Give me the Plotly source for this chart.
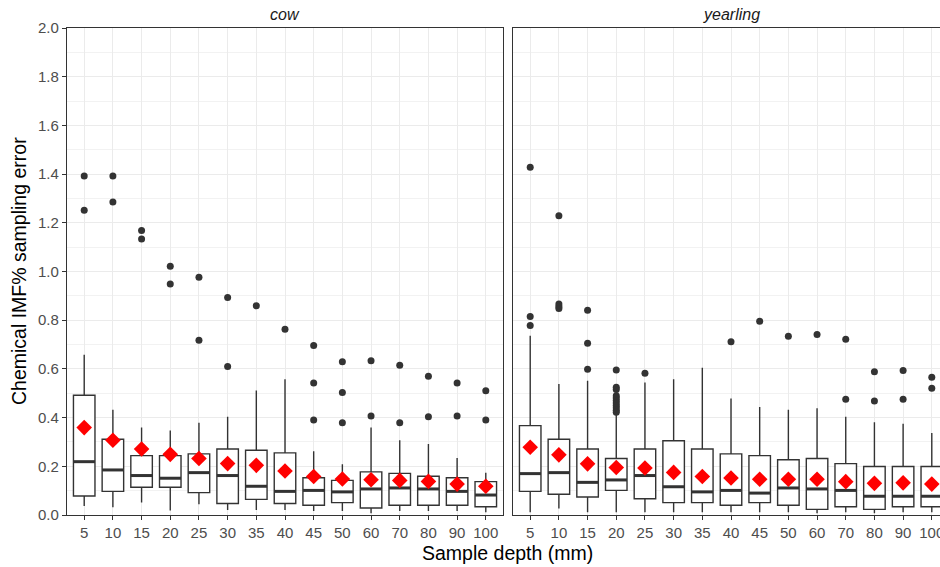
import plotly.graph_objects as go

W, H = 940, 567

depths = ["5", "10", "15", "20", "25", "30", "35", "40", "45", "50", "60", "70", "80", "90", "100"]

# ---- cow ----
cow_low = [0.037, 0.032, 0.051, 0.018, 0.044, 0.021, 0.021, 0.021, 0.016, 0.016, 0.007, 0.016, 0.016, 0.016, 0.011]
cow_q1 = [0.078, 0.097, 0.114, 0.114, 0.092, 0.047, 0.064, 0.047, 0.040, 0.051, 0.029, 0.040, 0.040, 0.040, 0.034]
cow_med = [0.219, 0.185, 0.162, 0.151, 0.174, 0.162, 0.118, 0.097, 0.101, 0.095, 0.107, 0.111, 0.107, 0.097, 0.082]
cow_q3 = [0.492, 0.311, 0.244, 0.244, 0.251, 0.271, 0.266, 0.255, 0.153, 0.142, 0.177, 0.171, 0.159, 0.153, 0.137]
cow_high = [0.658, 0.432, 0.359, 0.347, 0.379, 0.404, 0.511, 0.558, 0.262, 0.208, 0.359, 0.307, 0.292, 0.234, 0.173]
cow_mean = [0.359, 0.307, 0.271, 0.249, 0.232, 0.211, 0.204, 0.181, 0.158, 0.148, 0.145, 0.142, 0.138, 0.127, 0.118]
cow_out = [
    [1.392, 1.252],
    [1.392, 1.285],
    [1.168, 1.133],
    [1.022, 0.949],
    [0.976, 0.718],
    [0.893, 0.610],
    [0.859],
    [0.763],
    [0.696, 0.542, 0.390],
    [0.629, 0.503, 0.379],
    [0.633, 0.407],
    [0.615, 0.379],
    [0.570, 0.403],
    [0.542, 0.407],
    [0.510, 0.390],
]

# ---- yearling ----
yr_low = [0.011, 0.027, 0.011, 0.011, 0.011, 0.011, 0.011, 0.011, 0.011, 0.011, 0.007, 0.011, 0.007, 0.011, 0.011]
yr_q1 = [0.097, 0.085, 0.074, 0.101, 0.067, 0.051, 0.051, 0.040, 0.051, 0.040, 0.023, 0.034, 0.023, 0.034, 0.034]
yr_med = [0.170, 0.174, 0.134, 0.144, 0.162, 0.116, 0.095, 0.101, 0.090, 0.111, 0.107, 0.101, 0.077, 0.077, 0.077]
yr_q3 = [0.367, 0.311, 0.271, 0.232, 0.271, 0.305, 0.271, 0.251, 0.244, 0.227, 0.232, 0.211, 0.199, 0.199, 0.199]
yr_high = [0.736, 0.538, 0.551, 0.411, 0.544, 0.558, 0.605, 0.478, 0.444, 0.432, 0.438, 0.404, 0.381, 0.375, 0.337]
yr_mean = [0.278, 0.247, 0.210, 0.195, 0.193, 0.175, 0.158, 0.152, 0.147, 0.147, 0.147, 0.137, 0.130, 0.132, 0.127]
yr_out = [
    [1.428, 0.815, 0.778],
    [1.229, 0.867, 0.856, 0.848],
    [0.841, 0.705, 0.599],
    [0.595, 0.525, 0.515, 0.490, 0.480, 0.470, 0.460, 0.450, 0.440, 0.430, 0.422],
    [0.582],
    [],
    [],
    [0.712],
    [0.796],
    [0.734],
    [0.741],
    [0.722, 0.475],
    [0.588, 0.468],
    [0.593, 0.475],
    [0.566, 0.521],
]

BOXW = 0.75
LINE = "#333333"
GRID = "#ebebeb"
FONT = "Liberation Sans, Arial, sans-serif"

fig = go.Figure()
pos = list(range(len(depths)))


def add_panel(xa, ya, low, q1, med, q3, high, mean, out):
    fig.add_trace(go.Box(
        x=pos, q1=q1, median=med, q3=q3, lowerfence=low, upperfence=high,
        width=BOXW, whiskerwidth=0, boxpoints=False,
        fillcolor="white", line=dict(color=LINE, width=1.4),
        xaxis=xa, yaxis=ya, showlegend=False, hoverinfo="skip"))
    mx, my = [], []
    for i, m in zip(pos, med):
        mx += [i - BOXW / 2, i + BOXW / 2, None]
        my += [m, m, None]
    fig.add_trace(go.Scatter(x=mx, y=my, mode="lines",
                             line=dict(color=LINE, width=3),
                             xaxis=xa, yaxis=ya, showlegend=False, hoverinfo="skip"))
    ox, oy = [], []
    for i, vals in zip(pos, out):
        for v in vals:
            ox.append(i)
            oy.append(v)
    fig.add_trace(go.Scatter(x=ox, y=oy, mode="markers",
                             marker=dict(color=LINE, size=7, symbol="circle"),
                             xaxis=xa, yaxis=ya, showlegend=False))
    fig.add_trace(go.Scatter(x=pos, y=mean, mode="markers",
                             marker=dict(color="#ff0000", size=12, symbol="diamond",
                                         line=dict(width=0)),
                             xaxis=xa, yaxis=ya, showlegend=False))


add_panel("x", "y", cow_low, cow_q1, cow_med, cow_q3, cow_high, cow_mean, cow_out)
add_panel("x2", "y2", yr_low, yr_q1, yr_med, yr_q3, yr_high, yr_mean, yr_out)

# pixel geometry
L1, R1 = 67, 503
L2 = 513
TOP, BOT = 28, 515
unit = (R1 - L1) / 15.2
r2_end = -0.6 + (W - L2) / unit

ydom = [1 - BOT / H, 1 - TOP / H]
TICKFONT = dict(family=FONT, size=15, color="#4d4d4d")

xcommon = dict(
    tickmode="array", tickvals=pos, ticktext=depths,
    showgrid=True, gridcolor=GRID, gridwidth=1.1,
    showline=True, linecolor=LINE, linewidth=1.2, mirror=True,
    ticks="outside", ticklen=4, tickcolor=LINE, tickwidth=1,
    tickfont=TICKFONT, ticklabeloverflow="allow",
    zeroline=False, automargin=False,
)
fig.update_layout(
    width=W, height=H,
    margin=dict(l=0, r=0, t=0, b=0),
    paper_bgcolor="white", plot_bgcolor="white",
    showlegend=False,
    xaxis=dict(domain=[L1 / W, R1 / W], range=[-0.6, 14.6], anchor="y", **xcommon),
    xaxis2=dict(domain=[L2 / W, 1.0], range=[-0.6, r2_end], anchor="y2", **xcommon),
    yaxis=dict(domain=ydom, range=[0, 2.0], tickvals=[0, 0.2, 0.4, 0.6, 0.8, 1.0, 1.2, 1.4, 1.6, 1.8, 2.0],
               ticktext=["0.0", "0.2", "0.4", "0.6", "0.8", "1.0", "1.2", "1.4", "1.6", "1.8", "2.0"],
               showgrid=True, gridcolor=GRID, gridwidth=1.1,
               minor=dict(dtick=0.1, showgrid=True, gridcolor="#f2f2f2", gridwidth=0.6),
               showline=True, linecolor=LINE, linewidth=1.2, mirror=True,
               ticks="outside", ticklen=4, tickcolor=LINE, tickwidth=1,
               tickfont=TICKFONT,
               zeroline=False, automargin=False, anchor="x"),
    yaxis2=dict(domain=ydom, range=[0, 2.0], dtick=0.2,
                showgrid=True, gridcolor=GRID, gridwidth=1.1,
                minor=dict(dtick=0.1, showgrid=True, gridcolor="#f2f2f2", gridwidth=0.6),
                showline=True, linecolor=LINE, linewidth=1.2, mirror=True,
                showticklabels=False, ticks="",
                zeroline=False, automargin=False, anchor="x2"),
)

ann_font = dict(family=FONT, size=16, color="#1a1a1a")
STRIP_Y = 1 - 14 / H
fig.add_annotation(text="<i>cow</i>", x=(L1 + R1) / 2 / W, y=STRIP_Y, xref="paper", yref="paper",
                   showarrow=False, font=ann_font, xanchor="center", yanchor="middle")
fig.add_annotation(text="<i>yearling</i>", x=(L2 + (L2 + 15.2 * unit)) / 2 / W, y=STRIP_Y,
                   xref="paper", yref="paper",
                   showarrow=False, font=ann_font, xanchor="center", yanchor="middle")
fig.add_annotation(text="Sample depth (mm)", x=507 / W, y=1 - 553 / H, xref="paper", yref="paper",
                   showarrow=False, font=dict(family=FONT, size=19.5, color="#000000"),
                   xanchor="center", yanchor="middle")
fig.add_annotation(text="Chemical IMF% sampling error", x=19 / W, y=1 - 271 / H,
                   xref="paper", yref="paper",
                   showarrow=False, textangle=-90, font=dict(family=FONT, size=19.5, color="#000000"),
                   xanchor="center", yanchor="middle")

# remove the default 8px page margin so the 940x567 figure fills the window exactly
fig.write_html("out.html", config={"displayModeBar": False},
               post_script="document.body.style.margin='0';")
